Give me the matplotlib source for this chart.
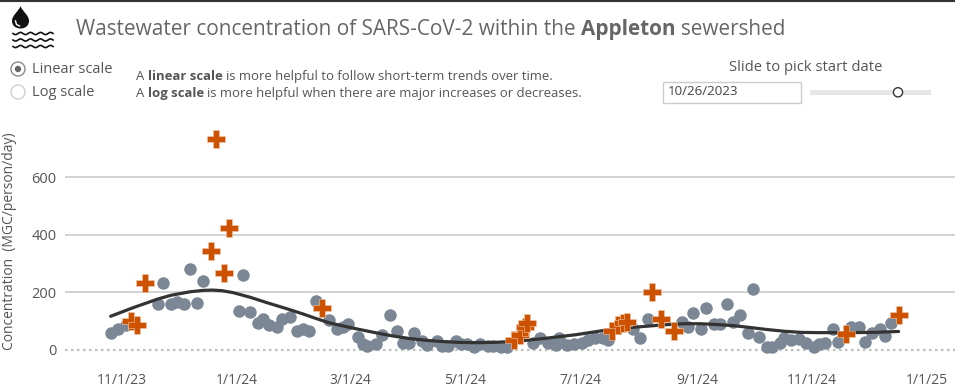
import numpy as np
import matplotlib
matplotlib.use("Agg")
import matplotlib.pyplot as plt
import matplotlib.dates as mdates
from matplotlib.patches import Circle, Rectangle, PathPatch
from matplotlib.path import Path
from datetime import date

FONT = "Open Sans"
plt.rcParams["font.family"] = [FONT, "DejaVu Sans"]

# ---- data (days after 1 Nov 2023, MGC/person/day) ----
sample_days = [-6,-2,2,19,22,26,29,33,36,40,43,62,64,68,72,75,78,82,85,89,93,96,99,103,110,114,117,120,
               125,128,130,135,138,142,146,149,152,155,159,162,167,170,173,177,180,183,187,190,194,197,
               201,204,218,222,226,230,232,236,240,244,247,251,255,258,271,275,279,297,300,303,307,310,
               314,317,321,324,328,332,335,338,342,345,349,351,355,359,363,367,370,373,377,380,387,391,
               394,398,402,405,408]
sample_vals = [59,73,87,160,230,160,167,160,282,163,240,136,261,132,94,108,87,80,108,115,66,70,63,170,104,70,80,90,
               45,21,14,21,52,122,63,24,24,59,31,17,31,14,14,31,21,21,10,21,14,14,
               10,10,24,42,24,17,42,17,21,24,35,42,42,35,73,42,108,97,80,129,73,143,
               90,90,160,97,122,59,212,45,10,10,24,42,35,38,24,10,21,24,70,28,77,77,
               28,59,73,49,94]
flag_days = [5,8,12,47,50,54,57,106,208,211,214,215,260,263,266,268,281,286,293,384,412]
flag_vals = [101,87,233,344,734,268,424,146,35,52,80,94,66,87,94,97,202,108,66,56,122]
trend_days = [-6,6,19,26,36,43,48,53,59,68,77,88,96,103,110,121,126,135,144,153,162,170,179,188,197,206,
              214,223,232,241,250,259,268,276,287,298,307,316,325,333,342,351,360,369,378,386,399,412]
trend_vals = [116,146,176,189,201,206,207,205,198,182,163,141,124,108,93,77,70,58,47,38,32,28,25,24,25,28,
              32,38,45,52,61,70,76,80,86,90,90,87,83,77,70,64,60,59,59,59,60,63]
y_ticks = [0, 200, 400, 600]
x_tick_dates = [date(2023,11,1),date(2024,1,1),date(2024,3,1),date(2024,5,1),
                date(2024,7,1),date(2024,9,1),date(2024,11,1),date(2025,1,1)]
x_tick_labels = ["11/1/23","1/1/24","3/1/24","5/1/24","7/1/24","9/1/24","11/1/24","1/1/25"]

W, H = 962, 392
fig = plt.figure(figsize=(W/100, H/100), dpi=100, facecolor="white")

# ---- chart axes, placed in pixels ----
L, R, T, B = 65, 955, 120, 372
ax = fig.add_axes([L/W, 1-B/H, (R-L)/W, (B-T)/H])
PXD, X0 = 1.885, 122
PXV, Y0 = 0.2875, 349.6
base = mdates.date2num(date(2023,11,1))
ax.set_xlim(base+(L-X0)/PXD, base+(R-X0)/PXD)
ax.set_ylim((Y0-B)/PXV, (Y0-T)/PXV)
for s in ax.spines.values():
    s.set_visible(False)

ax.set_yticks(y_ticks)
ax.set_yticklabels([str(v) for v in y_ticks], fontsize=10.5, color="#555555")
ax.set_xticks([mdates.date2num(d) for d in x_tick_dates])
ax.set_xticklabels(x_tick_labels, fontsize=10, color="#555555")
ax.tick_params(axis="both", length=0)
ax.tick_params(axis="y", pad=6)
ax.tick_params(axis="x", pad=0.5)

for v in y_ticks[1:]:
    ax.axhline(v, color="#d2d2d2", lw=1.4, zorder=1)
ax.axhline(0, color="#bdbdbd", lw=1.6, ls=(0, (1.1, 1.6)), zorder=1)

ax.plot(base+np.array(sample_days), sample_vals, ls="none", marker="o", ms=9,
        mfc="#7b8794", mec="none", zorder=3)
ax.plot(base+np.array(trend_days), trend_vals, color="#333333", lw=2.3, zorder=4,
        solid_capstyle="round", solid_joinstyle="round")
ax.plot(base+np.array(flag_days), flag_vals, ls="none", marker="P", ms=13.6,
        mfc="#cc5200", mec="#f0c9ad", mew=0.4, zorder=5)

# ---- page overlay in pixel coordinates ----
ov = fig.add_axes([0, 0, 1, 1], zorder=10)
ov.set_xlim(0, W); ov.set_ylim(H, 0); ov.axis("off"); ov.patch.set_alpha(0)

ov.plot([0, 955], [0.7, 0.7], color="#333333", lw=1.5, solid_capstyle="butt")

ov.text(10, 241, "Concentration  (MGC/person/day)", rotation=90, ha="center", va="center",
        fontsize=10, color="#555555")

def runs(x, y, parts, size, color):
    r = fig.canvas.get_renderer()
    for s, bold in parts:
        t = ov.text(x, y, s, fontsize=size, color=color, va="center", ha="left",
                    fontweight="bold" if bold else "normal")
        x += t.get_window_extent(r).width

runs(76, 29, [("Wastewater concentration of SARS-CoV-2 within the ", False),
              ("Appleton ", True), ("sewershed", False)], 14.93, "#666666")
runs(136, 76, [("A ", False), ("linear scale ", True),
               ("is more helpful to follow short-term trends over time.", False)], 9.45, "#555555")
runs(136, 93, [("A ", False), ("log scale ", True),
               ("is more helpful when there are major increases or decreases.", False)], 9.45, "#555555")

ov.text(32, 69, "Linear scale", fontsize=10.5, color="#555555", va="center")
ov.text(32, 92, "Log scale", fontsize=10.5, color="#555555", va="center")
ov.text(729, 67, "Slide to pick start date", fontsize=10.6, color="#555555", va="center")
ov.text(668, 91, "10/26/2023", fontsize=9.6, color="#444444", va="center")

ov.add_patch(Circle((18, 69), 7, fc="white", ec="#8a8a8a", lw=1))
ov.add_patch(Circle((18, 69), 3.2, fc="#666666", ec="none"))
ov.add_patch(Circle((18, 92), 7, fc="white", ec="#cfcfcf", lw=1))
ov.add_patch(Rectangle((663.5, 81.5), 138, 21, fc="white", ec="#cccccc", lw=1))
ov.add_patch(Rectangle((810, 90), 121, 5, fc="#e6e6e6", ec="none"))
ov.add_patch(Circle((898, 92.3), 4.6, fc="white", ec="#333333", lw=1, zorder=3))

# water-drop icon
drop = Path([(20.5, 6), (22, 11), (29, 15), (29, 21), (29, 25.5), (25.5, 28.5), (20.5, 28.5),
             (15.5, 28.5), (12, 25.5), (12, 21), (12, 15), (19, 11), (20.5, 6)],
            [Path.MOVETO] + [Path.CURVE4]*12)
ov.add_patch(PathPatch(drop, fc="#111111", ec="none"))
ov.plot([15.5, 16.5, 19.5], [21, 24.5, 26], color="white", lw=1)
wx = np.linspace(13, 53, 160)
for wy in (33.5, 40, 46.5):
    ov.plot(wx, wy+1.1*np.sin((wx-13)/40*2*np.pi*4), color="#111111", lw=1.2)

fig.savefig("out.png", dpi=100)
